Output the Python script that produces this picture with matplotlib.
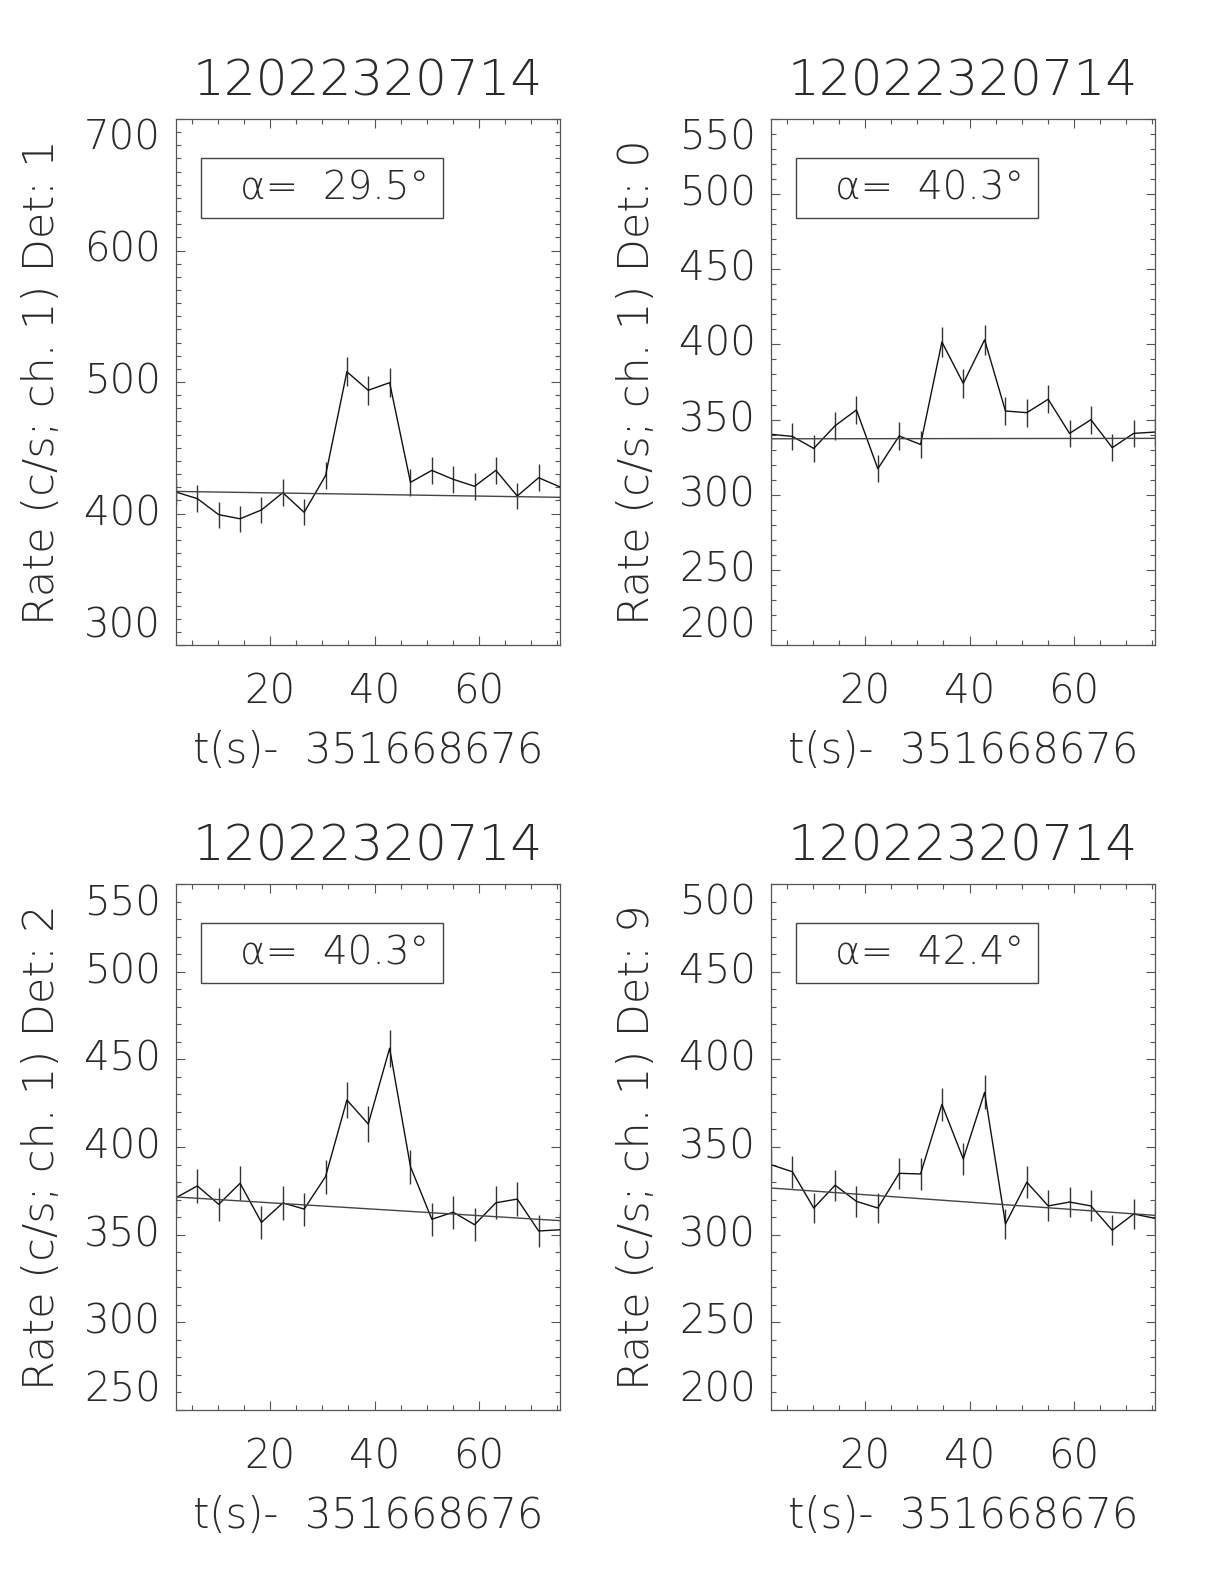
import matplotlib
matplotlib.use('Agg')
import matplotlib.pyplot as plt
from matplotlib import font_manager
from matplotlib.patches import Rectangle

# ---- data ----
t = [1.9, 6.0, 10.1, 14.2, 18.3, 22.4, 26.5, 30.6, 34.7, 38.8,
     42.9, 46.9, 51.0, 55.1, 59.2, 63.3, 67.4, 71.5, 75.6]

title = '12022320714'
xlabel = 't(s)-  351668676'
detectors = ['1', '0', '2', '9']
alphas = ['29.5', '40.3', '40.3', '42.4']

rate_det1 = [416.3, 411.3, 399.1, 396.0, 402.7, 415.8, 400.9, 428.8, 507.8, 493.7,
             499.5, 423.7, 432.8, 426.0, 420.7, 432.8, 413.3, 427.2, 420.2]
err_det1 = [10.1, 10.0, 9.9, 9.8, 9.9, 10.1, 9.9, 10.2, 11.1, 11.0,
            11.0, 10.2, 10.3, 10.2, 10.1, 10.3, 10.0, 10.2, 10.1]
bkg_det1 = [416.8, 412.3]

rate_det0 = [340.2, 338.8, 330.8, 345.9, 356.4, 317.3, 339.1, 333.4, 401.6, 374.1,
             403.1, 355.7, 354.6, 363.5, 340.8, 349.9, 331.3, 340.8, 341.7]
err_det0 = [9.1, 9.1, 9.0, 9.2, 9.3, 8.8, 9.1, 9.0, 9.9, 9.6,
            9.9, 9.3, 9.3, 9.4, 9.1, 9.2, 9.0, 9.1, 9.1]
bkg_det0 = [337.2, 337.5]

rate_det2 = [371.1, 377.8, 367.3, 379.3, 357.0, 368.1, 364.6, 383.1, 426.8, 413.1,
             456.3, 388.8, 358.8, 362.8, 355.7, 368.2, 370.3, 352.1, 352.8]
err_det2 = [9.5, 9.6, 9.5, 9.6, 9.3, 9.5, 9.4, 9.7, 10.2, 10.0,
            10.6, 9.7, 9.4, 9.4, 9.3, 9.5, 9.5, 9.3, 9.3]
bkg_det2 = [371.5, 358.0]

rate_det9 = [339.9, 335.9, 315.2, 328.2, 319.0, 315.2, 335.0, 334.6, 374.3, 343.2,
             381.2, 306.1, 329.9, 316.4, 318.6, 316.4, 302.5, 311.8, 309.3]
err_det9 = [9.1, 9.1, 8.8, 8.9, 8.8, 8.8, 9.0, 9.0, 9.6, 9.2,
            9.6, 8.6, 9.0, 8.8, 8.8, 8.8, 8.6, 8.7, 8.7]
bkg_det9 = [326.6, 311.0]

rates = [rate_det1, rate_det0, rate_det2, rate_det9]
errs = [err_det1, err_det0, err_det2, err_det9]
bkgs = [bkg_det1, bkg_det0, bkg_det2, bkg_det9]
ylims = [(300, 700), (200, 550), (250, 550), (200, 500)]
ysteps = [100, 50, 50, 50]


# thin font, closest thing to the IDL stroke font
def thin_family():
    wanted = ['DejaVu Sans', 'Roboto', 'Lato', 'Open Sans', 'Inter', 'Noto Sans']
    have = {}
    for f in font_manager.fontManager.ttflist:
        w = f.weight
        if isinstance(w, str):
            w = font_manager.weight_dict.get(w, 400)
        have.setdefault(f.name, []).append(w)
    for name in wanted:
        if name in have and min(have[name]) <= 300:
            return name, min(have[name])
    return 'DejaVu Sans', 400


fam, wt = thin_family()
plt.rcParams['font.family'] = [fam, 'DejaVu Sans']
plt.rcParams['font.weight'] = wt
plt.rcParams['axes.titleweight'] = wt
plt.rcParams['axes.labelweight'] = wt
ink = '#2a2a2a'

fig = plt.figure(figsize=(12.24, 15.84), dpi=100)
W, H = 1224.0, 1584.0
lefts = [176, 771, 176, 771]
tops = [119, 119, 884, 884]
aw, ah = 384, 526

for i in range(4):
    ax = fig.add_axes([lefts[i] / W, 1 - (tops[i] + ah) / H, aw / W, ah / H])
    ax.errorbar(t, rates[i], yerr=errs[i], fmt='none', ecolor='#333333',
                elinewidth=1.0, capsize=0)
    ax.plot(t, rates[i], color='#111111', lw=1.0)
    ax.plot([t[0], t[-1]], bkgs[i], color='#444444', lw=1.0)

    lo, hi = ylims[i]
    ax.set_xlim(t[0], t[-1])
    ax.set_ylim(lo, hi)
    ax.set_xticks([20, 40, 60])
    ax.set_xticks(range(5, 80, 5), minor=True)
    ax.set_yticks(range(lo, hi + 1, ysteps[i]))
    ax.set_yticks(range(lo, hi + 1, 10), minor=True)
    ax.tick_params(which='both', direction='in', top=True, right=True,
                   colors='#555555', labelcolor=ink, width=0.8)
    ax.tick_params(which='major', length=6.5, labelsize=29)
    ax.tick_params(which='minor', length=3.3)
    ax.tick_params(axis='x', which='major', pad=20)
    ax.tick_params(axis='y', which='major', pad=11)
    for s in ax.spines.values():
        s.set_color('#555555')
        s.set_linewidth(0.9)

    # IDL keeps the end labels inside the axis range
    yt = ax.yaxis.get_major_ticks()
    yt[0].label1.set_verticalalignment('bottom')
    yt[-1].label1.set_verticalalignment('top')
    for tk in yt[1:-1]:
        tk.label1.set_verticalalignment('center')

    ax.set_title(title, fontsize=36, color=ink, pad=17, fontweight=wt)
    ax.set_xlabel(xlabel, fontsize=30, color=ink, labelpad=13, fontweight=wt)
    ax.set_ylabel('Rate (c/s; ch. 1) Det: ' + detectors[i], fontsize=31,
                  color=ink, labelpad=16, fontweight=wt)

    ax.add_patch(Rectangle((0.066, 0.811), 0.629, 0.114, transform=ax.transAxes,
                           fill=False, edgecolor='#444444', lw=1.0))
    ax.text(0.167, 0.868, 'α=  ' + alphas[i] + '°', transform=ax.transAxes,
            fontsize=28, color=ink, ha='left', va='center')

fig.savefig('out.png', dpi=100)
